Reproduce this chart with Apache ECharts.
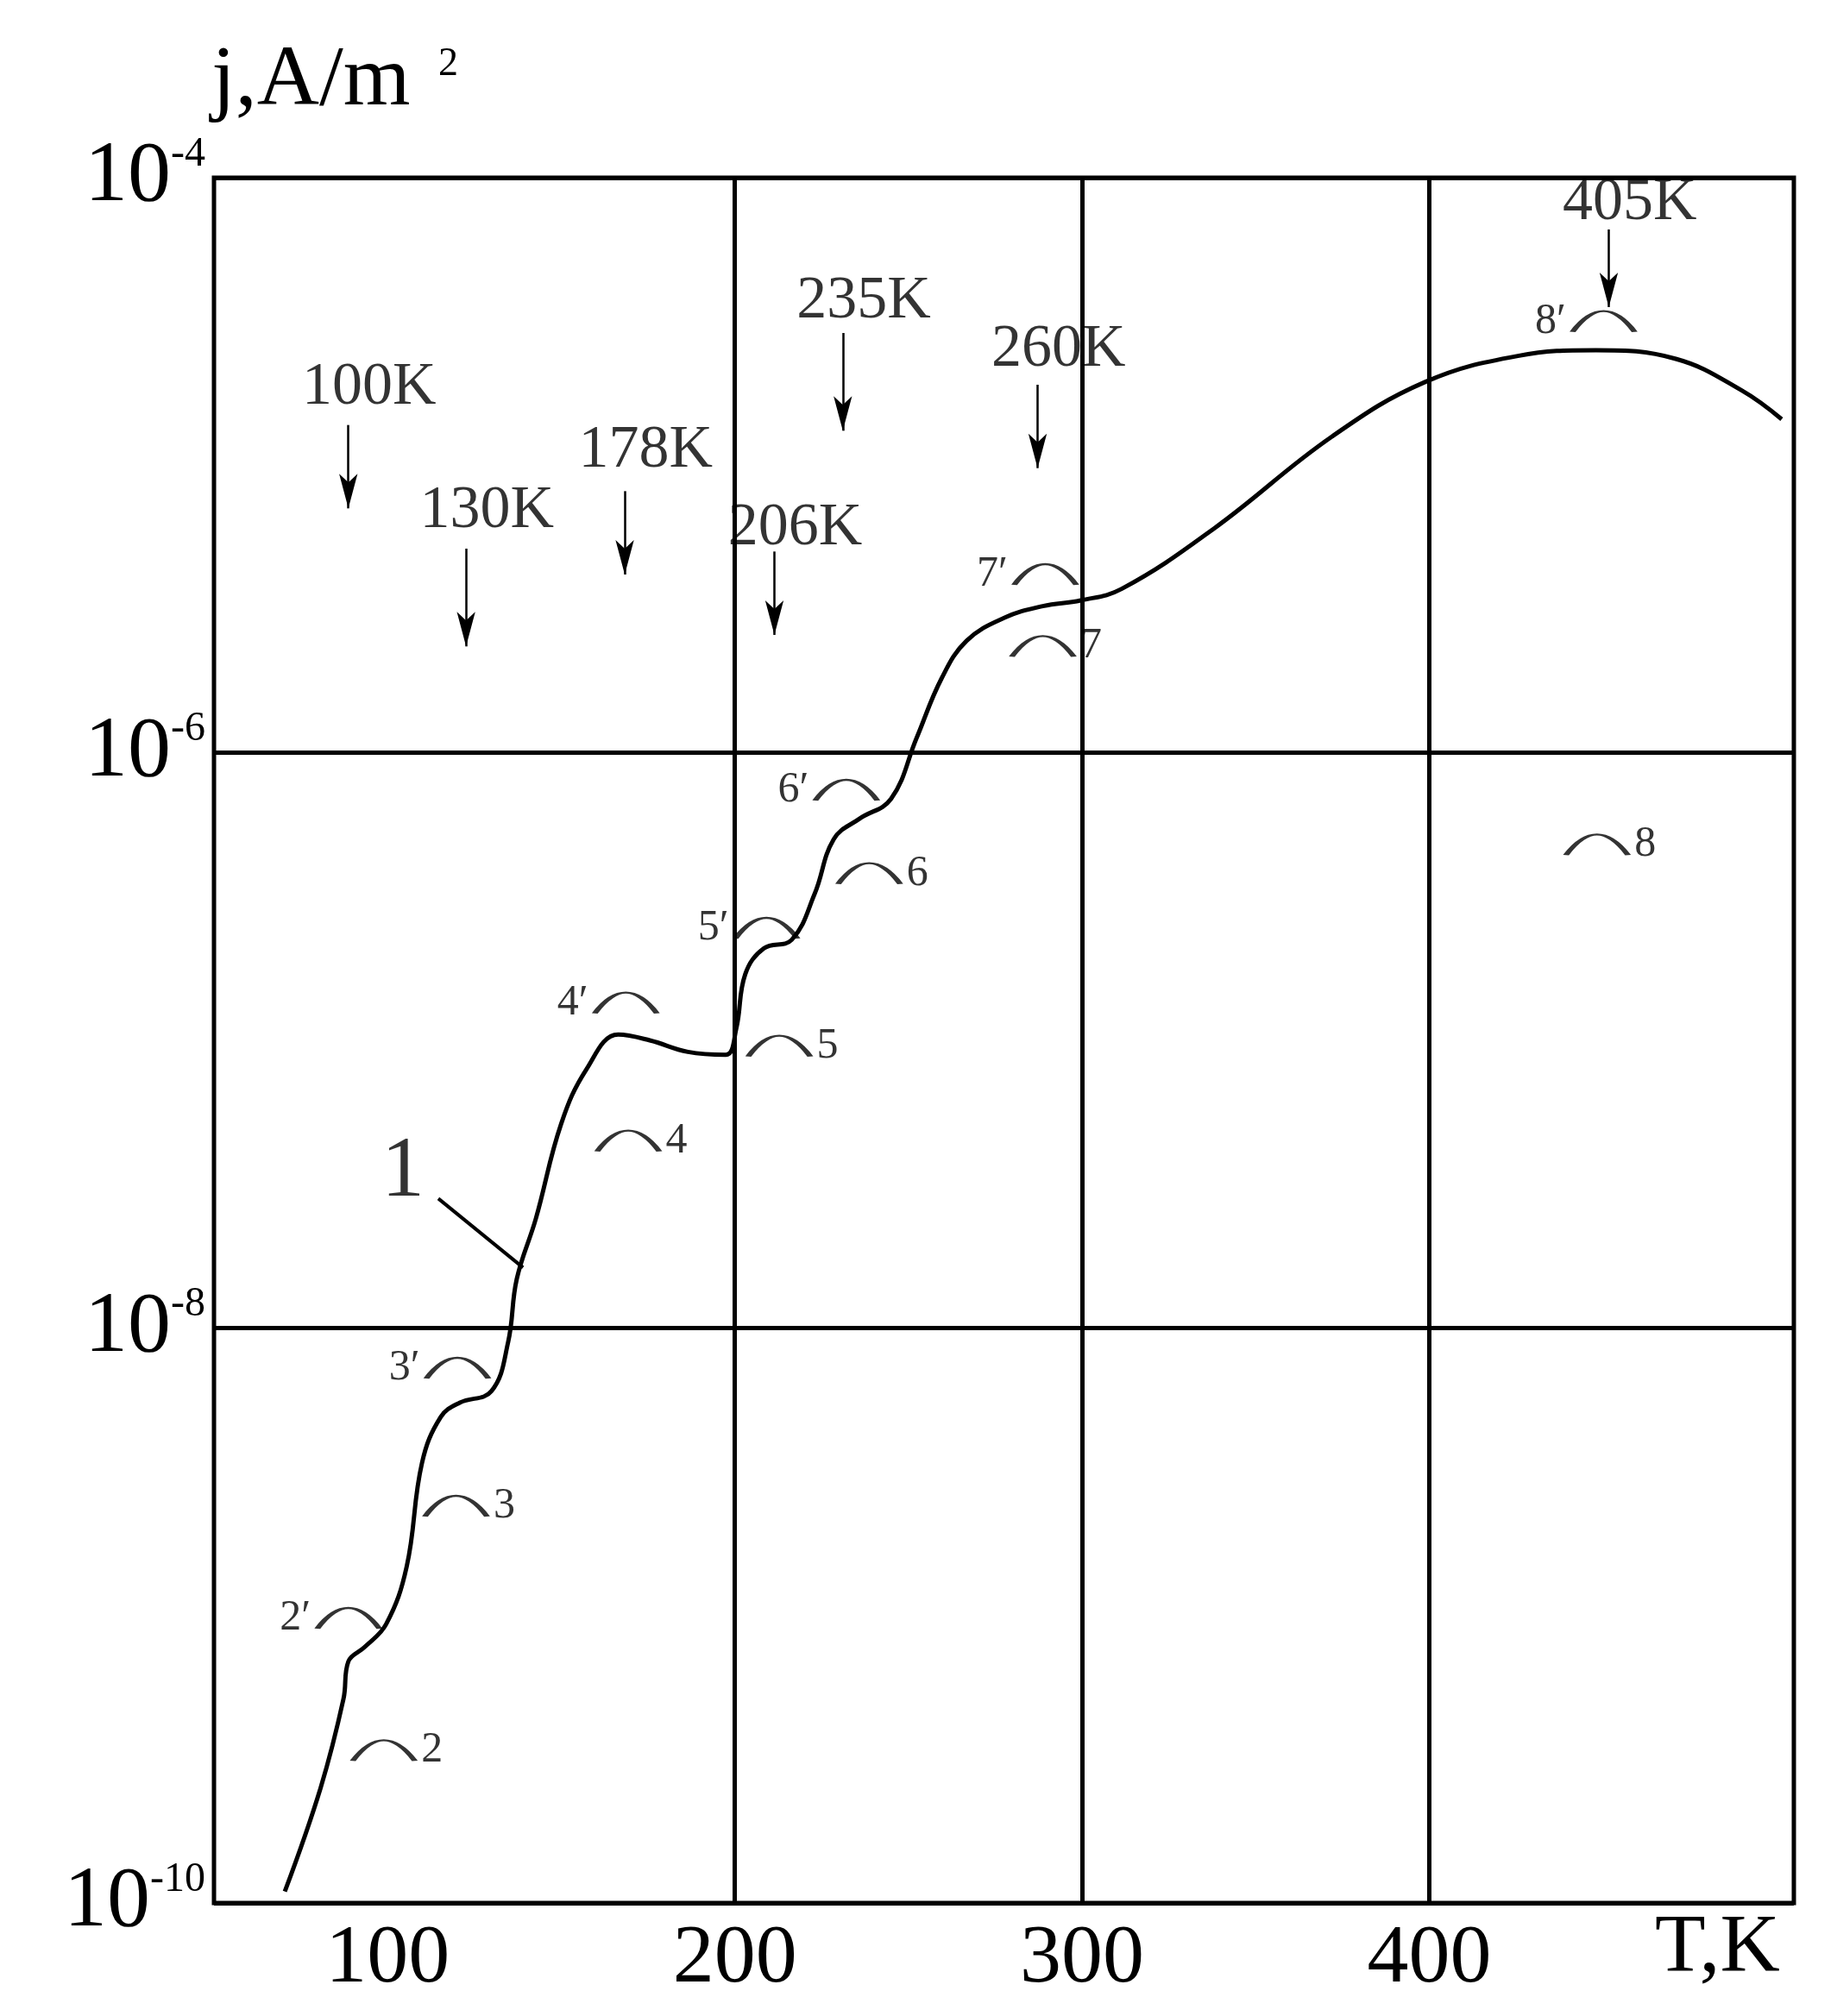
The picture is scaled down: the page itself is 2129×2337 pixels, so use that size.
<!DOCTYPE html>
<html>
<head>
<meta charset="utf-8">
<script src="https://cdn.jsdelivr.net/npm/echarts@6/dist/echarts.min.js"></script>
<style>html,body{margin:0;padding:0;background:#fff}#c{width:2129px;height:2337px}</style>
</head>
<body>
<div id="c"></div>
<script>
// curve 1: [T, log10 j]
var curveT = [70.4, 80.7, 87.3, 88.7, 93.4, 99.6, 105.5, 109.9, 115.3, 120.8, 129.9, 134.7, 137.2, 142.7, 150, 157.3, 166.4, 175.5, 186.5, 197.4, 200.4, 203, 208.4, 216.4, 223, 228.5, 235.8, 245, 252.3, 259.6, 266.8, 277.7, 288.7, 299.6, 311.4, 338, 372, 398.9, 425.5, 448, 471, 490, 501.5];
var curveLogJ = [-9.96, -9.6, -9.29, -9.16, -9.11, -9.03, -8.83, -8.47, -8.31, -8.26, -8.22, -8.05, -7.83, -7.62, -7.29, -7.1, -6.98, -7.0, -7.04, -7.05, -6.96, -6.77, -6.68, -6.65, -6.49, -6.3, -6.23, -6.16, -5.95, -5.74, -5.61, -5.53, -5.49, -5.47, -5.43, -5.22, -4.9, -4.71, -4.62, -4.6, -4.63, -4.74, -4.84];

// small arcs with labels
var arcNames = ['2', "2′", '3', "3′", '4', "4′", '5', "5′", '6', "6′", '7', "7′", '8', "8′"];
var arcT = [98.9, 88.7, 119.7, 120.1, 169.3, 168.6, 212.8, 209.1, 238.7, 232.1, 288.7, 289.4, 448.3, 450.2];
var arcLogJ = [-9.47, -9.01, -8.62, -8.14, -7.35, -6.87, -7.02, -6.61, -6.42, -6.13, -5.63, -5.38, -6.32, -4.5];

// arrows with temperature labels
var arrowNames = ['100K', '130K', '178K', '206K', '235K', '260K', '405K'];
var arrowT = [88.7, 122.6, 168.3, 211.4, 231.1, 287.2, 451.7];
var arrowTop = [-4.86, -5.29, -5.09, -5.30, -4.54, -4.72, -4.18];
var arrowBottom = [-5.15, -5.63, -5.38, -5.59, -4.88, -5.01, -4.45];
var arrowLabelY = [-4.73, -5.16, -4.95, -5.22, -4.43, -4.60, -4.09];

var xTicks = [100, 200, 300, 400];
var xGrid = [200, 300, 400];

var p = function (e) { return Math.pow(10, e); };
var font = 'Liberation Serif';

var chart = echarts.init(document.getElementById('c'));

var curveData = curveT.map(function (t, i) { return [t, p(curveLogJ[i])]; });
var arcData = arcT.map(function (t, i) {
    var primed = arcNames[i].indexOf('′') >= 0;
    return {
        value: [t, p(arcLogJ[i])],
        label: { show: true, formatter: arcNames[i], position: primed ? 'left' : 'right' }
    };
});
var arrowLines = arrowT.map(function (t, i) {
    return [{ coord: [t, p(arrowTop[i])] }, { coord: [t, p(arrowBottom[i])] }];
});
var arrowLabels = arrowT.map(function (t, i) {
    return { value: [t + 6, p(arrowLabelY[i])], name: arrowNames[i] };
});

var option = {
    animation: false,
    backgroundColor: '#fff',
    grid: { left: 248, right: 50, top: 206, bottom: 131, show: true, borderColor: '#000', borderWidth: 5 },
    xAxis: {
        type: 'value', min: 50, max: 505,
        splitLine: { show: false },
        axisLine: { show: false },
        axisTick: { show: false },
        axisLabel: { customValues: xTicks, fontFamily: font, fontSize: 96, color: '#000', margin: 18 }
    },
    yAxis: {
        type: 'log', logBase: 10, min: 1e-10, max: 1e-4, interval: 2,
        axisLine: { show: false },
        axisTick: { show: false },
        splitLine: { show: true, lineStyle: { color: '#000', width: 5 } },
        axisLabel: {
            margin: 10,
            formatter: function (v) {
                return '{b|10}{s|' + Math.round(Math.log10(v)) + '}';
            },
            rich: {
                b: { fontFamily: font, fontSize: 100, color: '#000' },
                s: { fontFamily: font, fontSize: 48, color: '#000', verticalAlign: 'top', padding: [0, 0, 54, 0] }
            }
        }
    },
    graphic: [
        { type: 'text', left: 245, top: 45, style: { text: 'j,A/m', font: '100px "Liberation Serif"', fill: '#000' } },
        { type: 'text', left: 508, top: 52, style: { text: '2', font: '46px "Liberation Serif"', fill: '#000' } },
        { type: 'text', left: 1918, top: 2212, style: { text: 'T,K', font: '96px "Liberation Serif"', fill: '#000' } }
    ],
    series: [
        {
            type: 'line', data: curveData, smooth: 0.4, showSymbol: false,
            lineStyle: { color: '#000', width: 5 },
            markLine: {
                silent: true, symbol: 'none', label: { show: false },
                lineStyle: { color: '#000', width: 5, type: 'solid' },
                data: xGrid.map(function (v) { return { xAxis: v }; })
                    .concat(arrowLines.map(function (l) {
                        return [
                            { coord: l[0].coord, symbol: 'none', lineStyle: { width: 2.5 } },
                            { coord: l[1].coord, symbol: 'arrow', symbolSize: [16, 40] }
                        ];
                    }))
                    .concat([[{ coord: [114.6, p(-7.55)], lineStyle: { width: 4 } }, { coord: [139, p(-7.79)] }]])
            }
        },
        {
            type: 'scatter', data: arcData,
            symbol: 'path://M0,20 Q25,-8 50,20', symbolSize: [72, 24],
            itemStyle: { color: 'rgba(0,0,0,0)', borderColor: '#000', borderWidth: 4 },
            label: { fontFamily: font, fontSize: 50, color: '#000', distance: 4 }
        },
        {
            type: 'scatter', data: arrowLabels, symbolSize: 0,
            label: { show: true, position: 'inside', formatter: '{b}', fontFamily: font, fontSize: 70, color: '#000' }
        },
        {
            type: 'scatter', data: [{ value: [104.4, p(-7.46)], name: '1' }], symbolSize: 0,
            label: { show: true, position: 'inside', formatter: '{b}', fontFamily: font, fontSize: 100, color: '#000' }
        }
    ]
};
chart.setOption(option);
</script>
</body>
</html>
